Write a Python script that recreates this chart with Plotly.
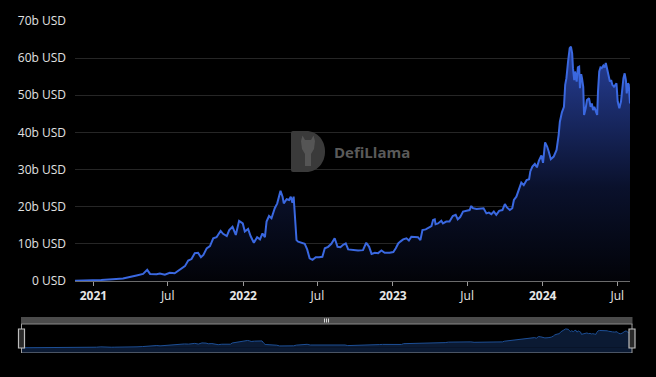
import plotly.graph_objects as go

W, H = 656, 377

dates = [
    "2020-11-17", "2020-12-10", "2021-01-01", "2021-01-20", "2021-02-17", "2021-03-14",
    "2021-04-16", "2021-05-02", "2021-05-12", "2021-05-19", "2021-06-04", "2021-06-12",
    "2021-06-24", "2021-07-06", "2021-07-18", "2021-07-31", "2021-08-12", "2021-08-20",
    "2021-08-28", "2021-09-05", "2021-09-13", "2021-09-20", "2021-09-26", "2021-10-04",
    "2021-10-12", "2021-10-20", "2021-10-28", "2021-11-07", "2021-11-13", "2021-11-22",
    "2021-11-28", "2021-12-06", "2021-12-14", "2021-12-22", "2021-12-31",
    "2022-01-05", "2022-01-13", "2022-01-19", "2022-01-27", "2022-02-04", "2022-02-11",
    "2022-02-17", "2022-02-23", "2022-02-27", "2022-03-05", "2022-03-11", "2022-03-19",
    "2022-03-25", "2022-04-02", "2022-04-07", "2022-04-10", "2022-04-17", "2022-04-23",
    "2022-04-27", "2022-05-01", "2022-05-04", "2022-05-08", "2022-05-11", "2022-05-15",
    "2022-05-23", "2022-05-31", "2022-06-06", "2022-06-12", "2022-06-19", "2022-06-27",
    "2022-07-05", "2022-07-13", "2022-07-19", "2022-07-27", "2022-08-04", "2022-08-12",
    "2022-08-19", "2022-08-26", "2022-09-01", "2022-09-08", "2022-09-14", "2022-09-26",
    "2022-10-08", "2022-10-20", "2022-10-28", "2022-11-04", "2022-11-10", "2022-11-18",
    "2022-11-26", "2022-12-04", "2022-12-12", "2022-12-24",
    "2023-01-02", "2023-01-08", "2023-01-14", "2023-01-19", "2023-01-26", "2023-02-03",
    "2023-02-09", "2023-02-15", "2023-02-23", "2023-03-03", "2023-03-09", "2023-03-14",
    "2023-03-22", "2023-03-30", "2023-04-05", "2023-04-09", "2023-04-13", "2023-04-15",
    "2023-04-21", "2023-04-29", "2023-05-03", "2023-05-11", "2023-05-19", "2023-05-27",
    "2023-06-03", "2023-06-08", "2023-06-14", "2023-06-21", "2023-06-29", "2023-07-07",
    "2023-07-11", "2023-07-15", "2023-07-24", "2023-08-05", "2023-08-10", "2023-08-17",
    "2023-08-23", "2023-08-29", "2023-09-04", "2023-09-10", "2023-09-17", "2023-09-25",
    "2023-10-01", "2023-10-06", "2023-10-13", "2023-10-19", "2023-10-23", "2023-10-29",
    "2023-11-05", "2023-11-10", "2023-11-16", "2023-11-23", "2023-11-29", "2023-12-02",
    "2023-12-07", "2023-12-13", "2023-12-18", "2023-12-23", "2023-12-29",
    "2024-01-02", "2024-01-07", "2024-01-12", "2024-01-16", "2024-01-21", "2024-01-28",
    "2024-02-04", "2024-02-09", "2024-02-12", "2024-02-17", "2024-02-22", "2024-02-25",
    "2024-02-28", "2024-03-03", "2024-03-07", "2024-03-10", "2024-03-13", "2024-03-15",
    "2024-03-18", "2024-03-20", "2024-03-24", "2024-03-27", "2024-03-30", "2024-04-01",
    "2024-04-04", "2024-04-06", "2024-04-09", "2024-04-11", "2024-04-15", "2024-04-18",
    "2024-04-23", "2024-04-27", "2024-04-30", "2024-05-03", "2024-05-06", "2024-05-10",
    "2024-05-13", "2024-05-15", "2024-05-18", "2024-05-21", "2024-05-24", "2024-05-28",
    "2024-05-31", "2024-06-03", "2024-06-07", "2024-06-10", "2024-06-13", "2024-06-16",
    "2024-06-19", "2024-06-23", "2024-06-26", "2024-06-29", "2024-07-02", "2024-07-06",
    "2024-07-10", "2024-07-13", "2024-07-16", "2024-07-19", "2024-07-22", "2024-07-24",
    "2024-07-27", "2024-07-29", "2024-08-01",
]

tvl_billion = [
    0.10, 0.12, 0.15, 0.30, 0.50, 0.70,
    1.5, 1.9, 3.0, 1.9, 1.8, 2.0,
    1.7, 2.2, 2.1, 3.1, 4.0, 5.5,
    5.9, 7.5, 7.6, 6.4, 7.0, 8.8,
    9.4, 11.5, 11.8, 13.5, 12.7, 12.1,
    13.7, 14.6, 12.4, 16.2, 15.5,
    13.3, 14.0, 12.1, 10.3, 11.8, 11.2,
    12.8, 11.8, 16.0, 17.5, 16.9, 19.6,
    20.9, 24.3, 22.7, 20.9, 22.0, 21.8,
    22.7, 21.1, 22.7, 15.1, 11.0, 10.6,
    10.3, 10.0, 8.5, 6.1, 5.7, 6.4,
    6.4, 6.5, 8.8, 9.2, 10.0, 11.5,
    9.2, 9.1, 9.7, 10.1, 8.5, 8.3,
    8.2, 8.3, 10.3, 9.2, 7.3, 7.6,
    7.5, 8.2, 7.6, 7.6,
    7.8, 8.8, 10.1, 10.6, 11.2, 11.5,
    10.9, 11.9, 11.9, 11.8, 11.0, 13.7,
    13.9, 14.5, 14.8, 16.4, 16.6, 15.3,
    15.5, 16.2, 15.5, 16.0, 16.0, 17.5,
    17.8, 16.6, 17.2, 18.7, 18.9, 19.1,
    20.2, 19.6, 19.4, 19.4, 19.6, 18.2,
    18.4, 18.0, 18.7, 17.8, 18.9, 19.1,
    20.7, 19.8, 19.1, 19.6, 21.8, 22.7,
    25.0, 26.5, 25.8, 27.2, 27.4, 29.5,
    30.8, 31.5, 30.6, 32.4, 33.8,
    31.8, 37.3, 36.2, 34.8, 32.8, 33.5,
    35.3, 39.3, 42.9, 45.4, 46.9, 52.8,
    54.6, 59.1, 62.7, 63.1, 61.3, 57.3,
    54.1, 56.4, 53.7, 57.5, 57.7, 51.9,
    55.7, 54.6, 52.3, 44.7, 46.5, 48.7,
    49.2, 46.9, 47.8, 46.0, 46.9, 45.6,
    44.7, 51.0, 56.4, 57.5, 57.3, 58.0,
    57.5, 58.7, 56.4, 55.0, 53.7, 54.1,
    52.8, 52.3, 52.9, 53.2, 48.3, 46.5,
    48.3, 52.8, 54.6, 55.9, 54.1, 50.5,
    53.2, 52.9, 47.8,
]

y_tick_values = [0, 10, 20, 30, 40, 50, 60, 70]
y_tick_labels = ["0 USD", "10b USD", "20b USD", "30b USD", "40b USD", "50b USD", "60b USD", "70b USD"]

x_tick_dates = ["2021-01-01", "2021-07-01", "2022-01-01", "2022-07-01",
                "2023-01-01", "2023-07-01", "2024-01-01", "2024-07-01"]
x_tick_labels = ["<b>2021</b>", "Jul", "<b>2022</b>", "Jul",
                 "<b>2023</b>", "Jul", "<b>2024</b>", "Jul"]


def px(x):
    return x / W


def py(y):
    return 1 - y / H


FONT = "Open Sans"

fig = go.Figure()

fig.add_trace(go.Scatter(
    x=dates, y=tvl_billion, mode="lines",
    line=dict(color="#3a68e0", width=2),
    fill="tozeroy",
    fillgradient=dict(type="vertical",
                      colorscale=[[0, "rgb(2,3,8)"], [0.4, "rgb(10,17,44)"], [1, "rgb(39,64,154)"]]),
    xaxis="x", yaxis="y", hoverinfo="skip",
))

fig.add_trace(go.Scatter(
    x=dates, y=tvl_billion, mode="lines",
    line=dict(color="#1d4f96", width=1),
    fill="tozeroy", fillcolor="#0b1a33",
    xaxis="x2", yaxis="y2", hoverinfo="skip",
))

shapes = []
# strip under the mini chart baseline
shapes.append(dict(type="rect", xref="x2", yref="y2", x0=dates[0], x1=dates[-1], y0=-15, y1=0,
                   fillcolor="#0b1a33", line=dict(width=0), layer="below"))
# slider top bar
shapes.append(dict(type="rect", xref="paper", yref="paper", x0=px(21), x1=px(632.5), y0=py(324), y1=py(317),
                   fillcolor="#4b4b4b", line=dict(width=0), layer="above"))
shapes.append(dict(type="line", xref="paper", yref="paper", x0=px(21), x1=px(632.5), y0=py(324), y1=py(324),
                   line=dict(color="#8a8a8a", width=1), layer="above"))
# bottom line of slider
shapes.append(dict(type="line", xref="paper", yref="paper", x0=px(21.5), x1=px(632), y0=py(352.5), y1=py(352.5),
                   line=dict(color="#4a5464", width=1), layer="above"))
# grip on the top bar
for gx in (324.5, 326.5, 328.5):
    shapes.append(dict(type="line", xref="paper", yref="paper", x0=px(gx), x1=px(gx), y0=py(318.5), y1=py(322.5),
                       line=dict(color="#d8d8d8", width=1), layer="above"))
# handles
for hx in (21.5, 632):
    shapes.append(dict(type="line", xref="paper", yref="paper", x0=px(hx), x1=px(hx), y0=py(324), y1=py(353),
                       line=dict(color="#a0a0a0", width=1), layer="above"))
    shapes.append(dict(type="rect", xref="paper", yref="paper", x0=px(hx - 3), x1=px(hx + 3), y0=py(348), y1=py(329),
                       fillcolor="#2a2a2a", line=dict(color="#bdbdbd", width=1.2), layer="above"))

# watermark logo (D shape with llama head)
d_path = (f"M {px(291)},{py(133)} Q {px(291)},{py(131)} {px(293)},{py(131)} L {px(306)},{py(131)} "
          f"C {px(318)},{py(131)} {px(325)},{py(141)} {px(325)},{py(151.5)} "
          f"C {px(325)},{py(162)} {px(318)},{py(172)} {px(306)},{py(172)} "
          f"L {px(293)},{py(172)} Q {px(291)},{py(172)} {px(291)},{py(170)} Z")
shapes.append(dict(type="path", xref="paper", yref="paper", path=d_path,
                   fillcolor="#3a3a3a", line=dict(width=0), layer="above"))
llama = [(301, 141), (302.5, 135.5), (305, 140), (311, 140), (313.5, 135.5), (315, 141),
         (314, 149), (311, 154), (311, 166), (305, 166), (305, 154), (302, 149)]
l_path = "M " + " L ".join(f"{px(a)},{py(b)}" for a, b in llama) + " Z"
shapes.append(dict(type="path", xref="paper", yref="paper", path=l_path,
                   fillcolor="#555555", line=dict(width=0), layer="above"))

fig.update_layout(
    width=W, height=H, autosize=False,
    template="none",
    margin=dict(l=0, r=0, t=0, b=0, pad=0),
    paper_bgcolor="#000000", plot_bgcolor="#000000",
    showlegend=False, hovermode=False,
    font=dict(family=FONT, size=12, color="#e2e2e2"),
    xaxis=dict(
        domain=[px(75), px(630)], anchor="y", type="date",
        range=[dates[0], dates[-1]],
        tickmode="array", tickvals=x_tick_dates, ticktext=x_tick_labels,
        showgrid=False, zeroline=False,
        showline=True, linecolor="#6b6b6b", linewidth=1,
        ticks="outside", ticklen=4, tickcolor="#9a9a9a", tickwidth=1,
        tickfont=dict(family=FONT, size=12, color="#e6e6e6"),
        automargin=False, fixedrange=True,
    ),
    yaxis=dict(
        domain=[py(281), py(21)], anchor="x",
        range=[0, 70],
        tickmode="array", tickvals=y_tick_values, ticktext=y_tick_labels,
        showgrid=True, gridcolor="#262626", gridwidth=1,
        zeroline=False, showline=False, ticks="",
        ticklabelstandoff=8,
        tickfont=dict(family=FONT, size=12, color="#e2e2e2"),
        automargin=False, fixedrange=True,
    ),
    xaxis2=dict(
        domain=[px(21.5), px(632)], anchor="y2", type="date",
        range=[dates[0], dates[-1]], visible=False, fixedrange=True,
    ),
    yaxis2=dict(
        domain=[py(352.3), py(324)], anchor="x2",
        range=[-15, 79], visible=False, fixedrange=True,
    ),
    shapes=shapes,
    annotations=[dict(
        text="<b>DefiLlama</b>", xref="paper", yref="paper",
        x=px(332), y=py(152), xanchor="left", yanchor="middle", showarrow=False,
        font=dict(family=FONT, size=15, color="#5a5a5a"),
    )],
)

fig.write_html(
    "out.html",
    config={"displayModeBar": False},
    post_script="document.body.style.margin='0';document.body.style.background='#000';",
)
